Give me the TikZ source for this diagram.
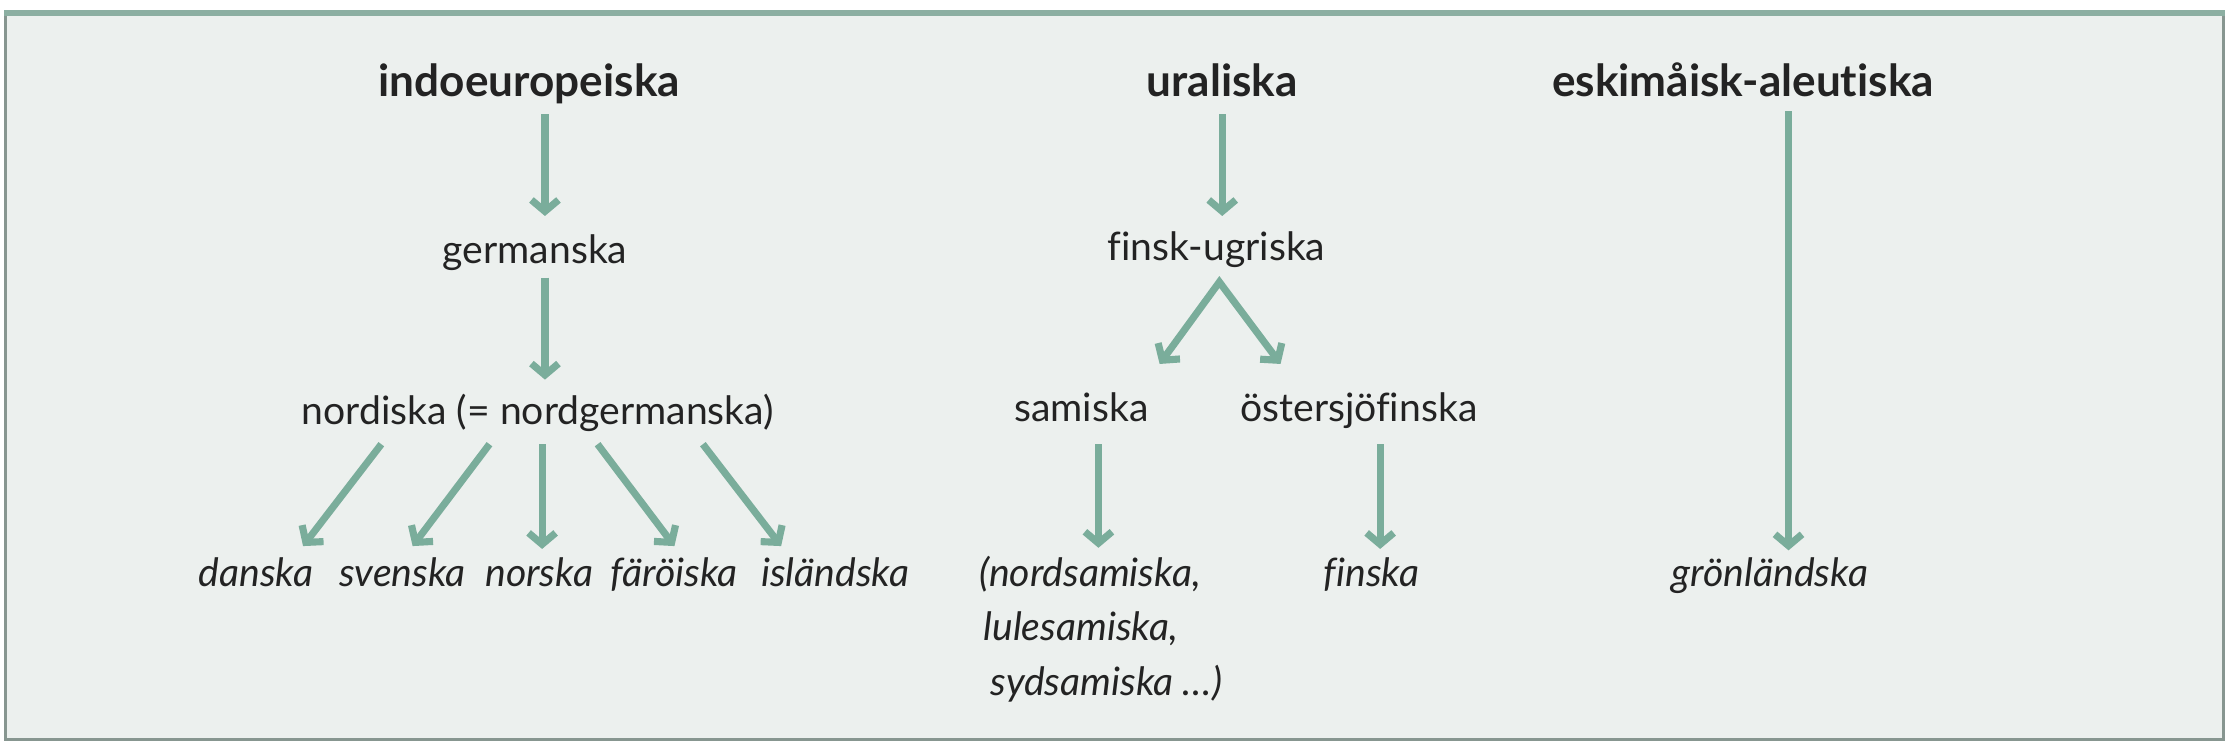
\documentclass[tikz,border=0pt]{standalone}
\usepackage{fontspec}
\setmainfont{Lato}[Ligatures=NoCommon]
\usetikzlibrary{arrows.meta}
\definecolor{bgc}{RGB}{236,240,238}
\definecolor{arrc}{RGB}{122,173,155}
\definecolor{txtc}{RGB}{35,35,35}
\definecolor{topc}{RGB}{140,175,162}
\definecolor{sidec}{RGB}{135,150,144}
\tikzset{
  lbl/.style={anchor=base, inner sep=0pt, text height=20pt, text depth=6pt, text=txtc, font=\fontsize{27.5}{34}\selectfont},
  hd/.style={lbl, font=\fontsize{31}{36}\selectfont\bfseries},
  lang/.style={lbl, font=\fontsize{27.5}{34}\selectfont\itshape},
  arr/.style={draw=arrc, line width=5pt, -{Straight Barb[length=8pt,width=19pt]}},
  arrboth/.style={draw=arrc, line width=5pt, line join=miter, {Straight Barb[length=8pt,width=19pt]}-{Straight Barb[length=8pt,width=19pt]}},
}
\begin{document}
\begin{tikzpicture}[x=1pt,y=-1pt]
\useasboundingbox (0,0) rectangle (1568,524);
\fill[white] (0,0) rectangle (1568,524);
\fill[bgc] (4,8) rectangle (1563,520);
\draw[sidec, line width=2pt] (4,8) -- (4,520) -- (1563,520) -- (1563,8);
\draw[topc, line width=4.5pt] (3,9) -- (1564,9);

% indoeuropeiska branch
\node[hd]   (ie)   at (372,68)  {indoeuropeiska};
\node[lbl]  (germ) at (376,185) {germanska};
\node[lbl]  (nord) at (378,298) {nordiska (= nordgermanska)};
\node[lang] (dan)  at (180,412) {danska};
\node[lang] (sve)  at (283,412) {svenska};
\node[lang] (nor)  at (379,412) {norska};
\node[lang] (far)  at (474,412) {färöiska};
\node[lang] (isl)  at (587,412) {isländska};

% uraliska branch
\node[hd]   (ur)   at (859,68)  {uraliska};
\node[lbl]  (fu)   at (855,183) {finsk-ugriska};
\node[lbl]  (sam)  at (760,296) {samiska};
\node[lbl]  (ost)  at (955,296) {östersjöfinska};
\node[lang, anchor=north west, align=left, text height=, text depth=, font=\fontsize{27.5}{38}\selectfont\itshape] (nsam) at (688,391)
  {(nordsamiska,\\\hspace{3pt}lulesamiska,\\\hspace{8pt}sydsamiska …)};
\node[lang] (fin)  at (964,412) {finska};

% eskimåisk-aleutiska branch
\node[hd]   (esk)  at (1225,68) {eskimåisk-aleutiska};
\node[lang] (gron) at (1244,412) {grönländska};

% connectors
\draw[arr] ([xshift=11pt,yshift=-6pt]ie.south) -- ([xshift=7pt,yshift=13pt]germ.north);
\draw[arr] ([xshift=7pt,yshift=-4pt]germ.south) -- ([xshift=5pt,yshift=11pt]nord.north);
\draw[arr] ([xshift=-110pt,yshift=-8pt]nord.south) -- ([xshift=33pt,yshift=8pt]dan.north);
\draw[arr] ([xshift=-34pt,yshift=-8pt]nord.south) -- ([xshift=7pt,yshift=8pt]sve.north);
\draw[arr] ([xshift=3pt,yshift=-8pt]nord.south) -- ([xshift=2pt,yshift=6pt]nor.north);
\draw[arr] ([xshift=42pt,yshift=-8pt]nord.south) -- ([xshift=0pt,yshift=8pt]far.north);
\draw[arr] ([xshift=116pt,yshift=-8pt]nord.south) -- ([xshift=-38pt,yshift=8pt]isl.north);

\draw[arr] ([yshift=-6pt]ur.south) -- ([xshift=4pt,yshift=11pt]fu.north);
\draw[arrboth] ([xshift=55pt,yshift=20pt]sam.north) -- ([xshift=2pt,yshift=-9pt]fu.south) -- ([xshift=-55pt,yshift=20pt]ost.north);
\draw[arr] ([xshift=12pt,yshift=-10pt]sam.south) -- ([xshift=84pt,yshift=6pt]nsam.north west);
\draw[arr] ([xshift=15pt,yshift=-10pt]ost.south) -- ([xshift=6pt,yshift=6pt]fin.north);

\draw[arr] ([xshift=32pt,yshift=-4pt]esk.south) -- ([xshift=13pt,yshift=5pt]gron.north);
\end{tikzpicture}
\end{document}
